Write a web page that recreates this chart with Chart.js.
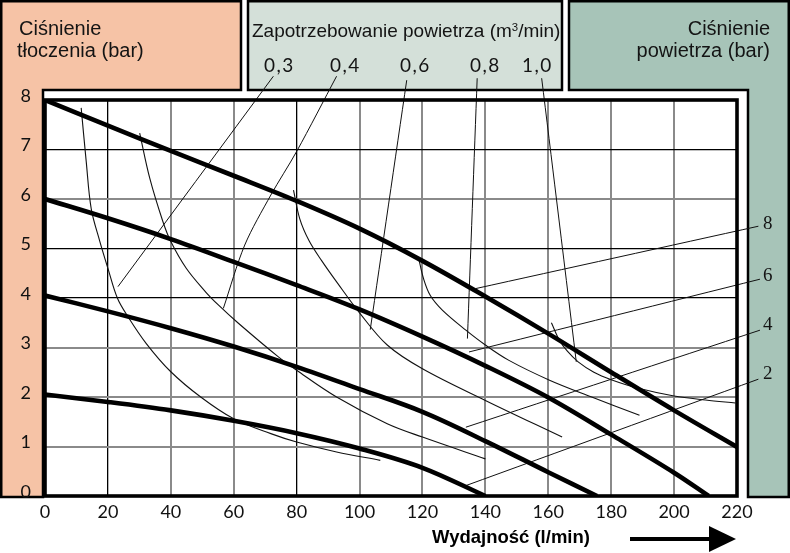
<!DOCTYPE html>
<html>
<head>
<meta charset="utf-8">
<script src="https://cdn.jsdelivr.net/npm/chart.js@4.4.1/dist/chart.umd.min.js"></script>
<style>
html,body{margin:0;padding:0;background:#fff;}
#wrap{position:relative;width:790px;height:553px;overflow:hidden;}
#c{position:absolute;left:0;top:0;}
.t{position:absolute;white-space:nowrap;font-family:"Liberation Sans",Arial,sans-serif;color:#141414;line-height:1;}
.h{font-size:20px;}
.mid{font-size:19px;}
.al{font-family:Lato,"DejaVu Sans",sans-serif;font-size:19px;letter-spacing:1.5px;}
.pl{font-family:"Liberation Serif","Times New Roman",serif;font-size:19px;}
.ax{font-weight:bold;font-size:18.5px;color:#000;}
sup{font-size:60%;line-height:0;vertical-align:0.55em;}
</style>
</head>
<body>
<div id="wrap">
<canvas id="c" width="790" height="553"></canvas>
<div class="t h" style="left:19px;top:18px;">Ciśnienie</div>
<div class="t h" style="left:17px;top:40px;">tłoczenia (bar)</div>
<div class="t mid" style="left:252px;top:21px;">Zapotrzebowanie powietrza (m<sup>3</sup>/min)</div>
<div class="t h" style="right:20px;top:18px;text-align:right;">Ciśnienie</div>
<div class="t h" style="right:20px;top:40px;text-align:right;">powietrza (bar)</div>
<div class="t ax" style="left:432px;top:528px;">Wydajność (l/min)</div>
<div id="airLbls"></div>
<div id="presLbls"></div>
</div>
<script>
// ---- axis ranges ----
const xMin = 0, xMax = 220, xStep = 20;
const yMin = 0, yMax = 8, yStep = 1;

// ---- delivery pressure curves for given air pressure (bar) : [flow l/min, pressure bar] ----
const press8 = [[0,8],[20,7.48],[40,6.97],[60,6.47],[80,5.96],[100,5.40],[120,4.75],[140,4.03],[160,3.28],[180,2.5],[200,1.73],[220,0.99]];
const press6 = [[0,6],[20,5.61],[40,5.19],[60,4.73],[80,4.26],[100,3.77],[120,3.22],[140,2.63],[160,1.99],[180,1.24],[200,0.47],[211,0]];
const press4 = [[0,4.05],[20,3.73],[40,3.39],[60,3.02],[80,2.61],[100,2.16],[120,1.70],[140,1.11],[160,0.48],[175.5,0]];
const press2 = [[0,2.05],[20,1.9],[40,1.73],[60,1.52],[80,1.27],[100,0.96],[120,0.57],[140,0]];

// ---- air consumption curves (m3/min) ----
const air03 = [[11.5,7.84],[13.1,6.76],[14.7,5.8],[17.4,5.15],[20,4.6],[23,4.0],[26.4,3.62],[32.2,3.08],[40,2.51],[49.5,2.0],[60,1.56],[71.8,1.26],[80,1.09],[92.7,0.89],[106.6,0.72]];
const air04 = [[30.1,7.33],[33.3,6.42],[37.5,5.54],[40,5.14],[44.9,4.6],[51.1,4.12],[55.1,3.86],[61.3,3.5],[74.2,2.81],[80,2.54],[92.7,2.0],[108.8,1.46],[120,1.19],[140,0.75]];
const air06 = [[79,6.18],[81,5.6],[84,5.15],[88,4.75],[93,4.3],[100,3.7],[108.8,3.05],[120,2.57],[140,1.93],[164.4,1.19]];
const air08 = [[118.8,4.8],[120.3,4.4],[122.5,4.05],[126.4,3.75],[133.8,3.35],[140,3.05],[147.5,2.74],[160.4,2.34],[173.8,2.0],[189,1.63]];
const air10 = [[161,3.5],[163.5,3.15],[166,2.93],[169.5,2.71],[174.5,2.5],[180,2.35],[189,2.17],[200,2.02],[210,1.94],[219.5,1.88]];

// ---- leader lines from labels to curves ----
const lead03 = [[23.2,4.23],[72.6,8.48]];
const lead04 = [[56.7,3.79],[63.5,5.07],[71.8,6.08],[80,6.96],[92.7,8.48]];
const lead06 = [[103.4,3.36],[115.0,8.40]];
const lead08 = [[134.3,3.18],[137.4,8.44]];
const lead10 = [[157.9,8.44],[162.6,6.0],[168.9,2.71]];
const lead8 = [[136.9,4.19],[226.8,5.45]];
const lead6 = [[134.8,2.91],[227.3,4.38]];
const lead4 = [[133.8,1.39],[227.3,3.35]];
const lead2 = [[133.8,0.21],[226.8,2.36]];

// ---- labels ----
const airLabels = ['0,3','0,4','0,6','0,8','1,0'];
const pressureLabels = ['8','6','4','2'];

// label placement (style only)
const airLabelPos = [[264,55],[330,55],[400,55],[470,55],[522,55]];
const presLabelPos = [[763,213],[763,265],[763,314],[763,363]];
airLabels.forEach((s,i)=>{
  const d=document.createElement('div');d.className='t al';d.textContent=s;
  d.style.left=airLabelPos[i][0]+'px';d.style.top=airLabelPos[i][1]+'px';
  document.getElementById('airLbls').appendChild(d);
});
pressureLabels.forEach((s,i)=>{
  const d=document.createElement('div');d.className='t pl';d.textContent=s;
  d.style.left=presLabelPos[i][0]+'px';d.style.top=presLabelPos[i][1]+'px';
  document.getElementById('presLbls').appendChild(d);
});

const toXY = arr => arr.map(p=>({x:p[0],y:p[1]}));
function thick(d){return {data:toXY(d),borderColor:'#000',borderWidth:4.6,pointRadius:0,tension:0.35,fill:false};}
function thin(d){return {data:toXY(d),borderColor:'#111',borderWidth:1.1,pointRadius:0,tension:0.35,fill:false};}
function lead(d){return {data:toXY(d),borderColor:'#111',borderWidth:1,pointRadius:0,tension:0.3,fill:false,clip:false};}

const panels = {
  id:'panels',
  beforeDraw(chart){
    const c=chart.ctx;
    c.save();
    c.fillStyle='#fff';c.fillRect(0,0,790,553);
    c.lineWidth=2.5;c.strokeStyle='#000';c.lineJoin='miter';
    // left salmon L
    c.beginPath();
    c.moveTo(1.25,1.25);c.lineTo(241,1.25);c.lineTo(241,90);c.lineTo(43,90);c.lineTo(43,497);c.lineTo(1.25,497);c.closePath();
    c.fillStyle='#F6C3A6';c.fill();c.stroke();
    // middle panel
    c.beginPath();c.rect(248,1.25,314,88.75);c.fillStyle='#D4E0D9';c.fill();c.stroke();
    // right L
    c.beginPath();
    c.moveTo(569,1.25);c.lineTo(788.75,1.25);c.lineTo(788.75,497);c.lineTo(748,497);c.lineTo(748,90);c.lineTo(569,90);c.closePath();
    c.fillStyle='#A7C4B8';c.fill();c.stroke();
    c.restore();
  },
  afterDraw(chart){
    const c=chart.ctx, a=chart.chartArea;
    c.save();
    c.strokeStyle='#000';c.lineWidth=3.6;
    c.strokeRect(a.left,a.top,a.right-a.left,a.bottom-a.top);
    // arrow
    c.fillStyle='#000';
    c.fillRect(630,537,82,4);
    c.beginPath();c.moveTo(709,526);c.lineTo(736,539);c.lineTo(709,552);c.closePath();c.fill();
    c.restore();
  }
};

const xDark = {20:'#000',80:'#000'};
const yDark = {7:'#000',5:'#000',4:'#000'};

new Chart(document.getElementById('c'),{
  type:'line',
  data:{datasets:[
    thick(press8),thick(press6),thick(press4),thick(press2),
    thin(air03),thin(air04),thin(air06),thin(air08),thin(air10),
    lead(lead03),lead(lead04),lead(lead06),lead(lead08),lead(lead10),
    lead(lead8),lead(lead6),lead(lead4),lead(lead2)
  ]},
  options:{
    responsive:false,animation:false,
    layout:{padding:{top:100,right:53,left:0,bottom:0}},
    plugins:{legend:{display:false},tooltip:{enabled:false}},
    scales:{
      x:{type:'linear',min:xMin,max:xMax,
        afterFit(s){s.height=57;},
        border:{display:false},
        grid:{drawTicks:false,
          color:ctx=>xDark[ctx.tick.value]||'#8a8a8a',
          lineWidth:ctx=>xDark[ctx.tick.value]?1.3:2},
        ticks:{stepSize:xStep,padding:5,color:'#111',font:{family:'Lato',size:18}}
      },
      y:{type:'linear',min:yMin,max:yMax,
        afterFit(s){s.width=45;},
        border:{display:false},
        grid:{drawTicks:false,
          color:ctx=>yDark[ctx.tick.value]?'#000':'#8a8a8a',
          lineWidth:ctx=>yDark[ctx.tick.value]?1.3:2},
        ticks:{stepSize:yStep,padding:14,labelOffset:-4,color:'#111',font:{family:'Lato',size:18}}
      }
    }
  },
  plugins:[panels]
});
</script>
</body>
</html>
